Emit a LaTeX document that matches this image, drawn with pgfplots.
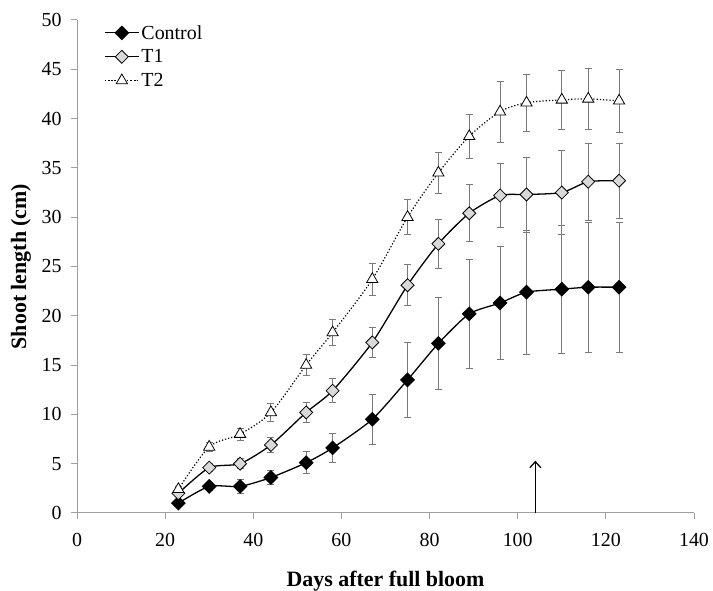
\documentclass[border=0pt]{standalone}
\usepackage{fontspec}
\setmainfont{Liberation Serif}
\usepackage{pgfplots}
\pgfplotsset{compat=1.18}
\usepackage{pgfplotstable}
\usetikzlibrary{arrows.meta}

% day, mean, error
\pgfplotstableread{
x y e
23 1.0 0.3
30 2.7 0.4
37 2.7 0.7
44 3.6 0.7
52 5.1 1.1
58 6.6 1.5
67 9.5 2.5
75 13.5 3.8
82 17.2 4.7
89 20.2 5.5
96 21.3 5.7
102 22.4 6.3
110 22.7 6.5
116 22.9 6.6
123 22.9 6.6
}\control
\pgfplotstableread{
x y e
23 2.0 0.3
30 4.6 0.4
37 5.0 0.5
44 6.9 0.8
52 10.2 1.0
58 12.4 1.2
67 17.3 1.5
75 23.1 2.1
82 27.3 2.5
89 30.4 2.9
96 32.2 3.2
102 32.3 3.8
110 32.5 4.3
116 33.6 3.9
123 33.7 3.8
}\tone
\pgfplotstableread{
x y e
23 2.4 0.3
30 6.7 0.5
37 8.0 0.6
44 10.2 0.9
52 15.0 1.1
58 18.3 1.3
67 23.7 1.6
75 30.0 1.8
82 34.5 2.1
89 38.2 2.2
96 40.7 3.1
102 41.6 2.9
110 41.9 3.0
116 42.0 3.1
123 41.8 3.2
}\ttwo

\begin{document}
\begin{tikzpicture}
\begin{axis}[
  scale only axis,
  width=617bp, height=493bp,
  xmin=0, xmax=140, ymin=0, ymax=50,
  xtick={0,20,...,140}, ytick={0,5,...,50},
  axis lines*=left,
  axis line style={draw=gray!75, line width=1pt},
  tick style={draw=gray!75, line width=1pt},
  tick align=outside, major tick length=6bp,
  /pgf/number format/assume math mode=true,
  ticklabel style={font=\fontsize{20}{20}\selectfont},
  xticklabel style={yshift=-11bp},
  yticklabel style={xshift=-6bp},
  xlabel={\textbf{Days after full bloom}},
  ylabel={\textbf{Shoot length (cm)}},
  label style={font=\fontsize{22}{22}\selectfont},
  xlabel style={at={([yshift=-74bp]rel axis cs:0.5,0)}, anchor=base},
  ylabel style={at={([xshift=-56bp]rel axis cs:0,0.5)}, anchor=center},
  clip=false,
  legend style={draw=none, fill=none, at={([xshift=27bp,yshift=-3bp]rel axis cs:0,1)},
    anchor=north west, font=\fontsize{20}{20}\selectfont, row sep=5bp,
    inner sep=0pt},
  legend cell align=left,
  legend image code/.code={\draw[mark repeat=2, mark phase=2, #1]
    plot coordinates {(0bp,0bp) (17bp,0bp) (34bp,0bp)};},
  error bars/error bar style={draw=gray!95!black, line width=0.9pt, solid},
  error bars/error mark options={draw=gray!95!black, line width=0.9pt, solid, rotate=90, mark size=3.5bp},
]
\addplot[black, line width=1.3pt, smooth, tension=0.4,
  mark=square*, mark size=4.6bp, mark options={rotate=45, fill=black, solid},
  error bars/.cd, y dir=both, y explicit]
  table[x=x, y=y, y error=e] {\control};
\addlegendentry{Control}
\addplot[black, line width=1.3pt, smooth, tension=0.4,
  mark=square*, mark size=4.6bp, mark options={rotate=45, fill=gray!30, solid, line width=0.8pt},
  error bars/.cd, y dir=both, y explicit]
  table[x=x, y=y, y error=e] {\tone};
\addlegendentry{T1}
\addplot[black, line width=1.2pt, dotted, smooth, tension=0.5,
  mark=triangle*, mark size=6.5bp, mark options={fill=white, solid, line width=0.8pt},
  error bars/.cd, y dir=both, y explicit]
  table[x=x, y=y, y error=e] {\ttwo};
\addlegendentry{T2}
\draw[-{Straight Barb[length=6bp, width=11bp]}, line width=1.3pt]
  (axis cs:104,0) -- (axis cs:104,5.3);
\coordinate (bl) at (rel axis cs:0,0);
\coordinate (tr) at (rel axis cs:1,1);
\end{axis}
\pgfresetboundingbox
\path[use as bounding box] ([shift={(-77bp,-78bp)}]bl) rectangle ([shift={(19bp,20bp)}]tr);
\end{tikzpicture}
\end{document}
